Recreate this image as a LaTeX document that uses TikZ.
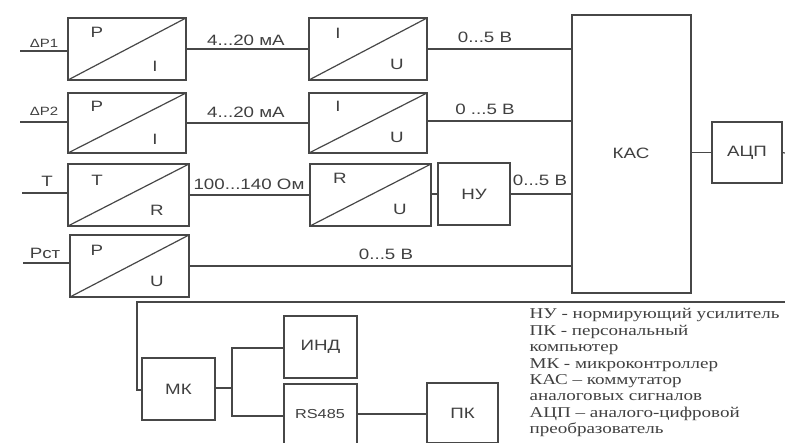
\documentclass[tikz,border=0pt]{standalone}
\usepackage{fontspec}
\setmainfont{Liberation Sans}
\newfontfamily\lblfont[FakeStretch=1.25]{Liberation Sans}
\newfontfamily\legfont[FakeStretch=1.27]{Liberation Serif}
\definecolor{ink}{gray}{0.28}
\definecolor{txt}{gray}{0.25}
\begin{document}
\begin{tikzpicture}[x=1pt,y=-1pt,
  line width=1.2pt, draw=ink,
  blk/.style={draw=ink, rectangle, inner sep=0pt, outer sep=0pt, anchor=north west, text=txt,
              font=\lblfont\fontsize{15}{18}\selectfont},
  lbl/.style={text=txt, inner sep=0pt, font=\lblfont\fontsize{15}{18}\selectfont},
  inlbl/.style={text=txt, inner sep=0pt, font=\lblfont\fontsize{12}{14}\selectfont},
  conn/.style={draw=ink, line width=1.2pt}]
\useasboundingbox[fill=white] (0,0) rectangle (785,443);

% ---- converter boxes
\node[blk, minimum width=118pt, minimum height=62pt] (pi1) at (68,18) {};
\node[blk, minimum width=118pt, minimum height=62pt] (iu1) at (309,18) {};
\node[blk, minimum width=118pt, minimum height=60pt] (pi2) at (68,93) {};
\node[blk, minimum width=118pt, minimum height=60pt] (iu2) at (309,93) {};
\node[blk, minimum width=121pt, minimum height=62pt] (tr)  at (68,164) {};
\node[blk, minimum width=121pt, minimum height=62pt] (ru)  at (310,164) {};
\node[blk, minimum width=119pt, minimum height=62pt] (pu)  at (70,235) {};
\foreach \n in {pi1,iu1,pi2,iu2,tr,ru,pu}
  \draw[conn] (\n.south west) -- (\n.north east);

% ---- letters inside converters
\node[lbl] (pi1a) at (97,32) {P};   \node[lbl] (pi1b) at (155,66) {I};
\node[lbl] (iu1a) at (338,33) {I};  \node[lbl] (iu1b) at (397,64) {U};
\node[lbl] (pi2a) at (97,106) {P};  \node[lbl] (pi2b) at (155,139) {I};
\node[lbl] (iu2a) at (338,106) {I}; \node[lbl] (iu2b) at (397,137) {U};
\node[lbl] (tra) at (97,180) {T};   \node[lbl] (trb) at (157,210) {R};
\node[lbl] (rua) at (340,178) {R};  \node[lbl] (rub) at (400,209) {U};
\node[lbl] (pua) at (97,250) {P};   \node[lbl] (pub) at (157,281) {U};

% ---- other blocks
\node[blk, minimum width=72pt, minimum height=62pt] (nu) at (438,163) {};
\node[lbl] at (nu.center) {НУ};
\node[blk, minimum width=119pt, minimum height=278pt] (kas) at (572,15) {};
\node[lbl] at (631,153) {КАС};
\node[blk, minimum width=70pt, minimum height=61pt] (adc) at (712,122) {};
\node[lbl] at (adc.center) {АЦП};
\node[blk, minimum width=73pt, minimum height=62pt] (mk) at (142,358) {};
\node[lbl] at (mk.center) {МК};
\node[blk, minimum width=73pt, minimum height=62pt] (ind) at (284,316) {};
\node[lbl] at (ind.center) {ИНД};
\node[blk, minimum width=73pt, minimum height=60pt] (rs) at (284,384) {};
\node[lbl, font=\lblfont\fontsize{13}{15}\selectfont] at (320,414) {RS485};
\node[blk, minimum width=71pt, minimum height=60pt] (pk) at (427,383) {};
\node[lbl] at (pk.center) {ПК};

% ---- inputs
\coordinate (in1) at (20,51);
\coordinate (in2) at (20,122);
\coordinate (in3) at (22,193);
\coordinate (in4) at (23,263);
\draw[conn] (in1) -- (in1 -| pi1.west);
\draw[conn] (in2) -- (in2 -| pi2.west);
\draw[conn] (in3) -- (in3 -| tr.west);
\draw[conn] (in4) -- (in4 -| pu.west);
\node[inlbl] (l1) at (44,43) {ΔP1};
\node[inlbl] (l2) at (44,111) {ΔP2};
\node[lbl] (l3) at (47,181) {T};
\node[lbl] (l4) at (45,253) {Pст};

% ---- signal lines
\draw[conn] (pi1.east) -- (iu1.west);
\draw[conn] (iu1.east) -- (iu1.east -| kas.west);
\draw[conn] (pi2.east) -- (pi2.east -| iu2.west);
\draw[conn] ([yshift=2pt]iu2.east) -- ([yshift=2pt]iu2.east -| kas.west);
\draw[conn] (tr.east) -- (tr.east -| ru.west);
\draw[conn] (ru.east |- nu.west) -- (nu.west);
\draw[conn] (nu.east) -- (nu.east -| kas.west);
\draw[conn] (pu.east) -- (pu.east -| kas.west);
\draw[conn] (kas.east |- adc.west) -- (adc.west);
\coordinate (adcout) at (785,153);
\draw[conn] (adc.east) -- (adcout);

\node[lbl] at (246,40) {4...20 мА};
\node[lbl] at (246,112) {4...20 мА};
\node[lbl] at (485,37) {0...5 В};
\node[lbl] at (485,109) {0 ...5 В};
\node[lbl] at (249,184) {100...140 Ом};
\node[lbl] at (540,180) {0...5 В};
\node[lbl] at (386,254) {0...5 В};

% ---- bottom bus
\coordinate (busr) at (785,302);
\coordinate (busl) at (137,302);
\draw[conn] (busr) -- (busl) -- (busl |- 0,390) -- (mk.west |- 0,390);
\coordinate (br) at (232,388);
\draw[conn] (mk.east |- br) -- (br);
\draw[conn] (ind.west |- 0,348) -| (br) |- (rs.west |- 0,416);
\draw[conn] (rs.east |- 0,414) -- (pk.west |- 0,414);

% ---- legend
\node[anchor=north west, inner sep=0pt, align=left, text=txt,
      font=\legfont\fontsize{15}{16.4}\selectfont] (leg) at (529,308)
 {НУ - нормирующий усилитель\\
  ПК - персональный\\
  компьютер\\
  МК - микроконтроллер\\
  КАС – коммутатор\\
  аналоговых сигналов\\
  АЦП – аналого-цифровой\\
  преобразователь};
\end{tikzpicture}
\end{document}
